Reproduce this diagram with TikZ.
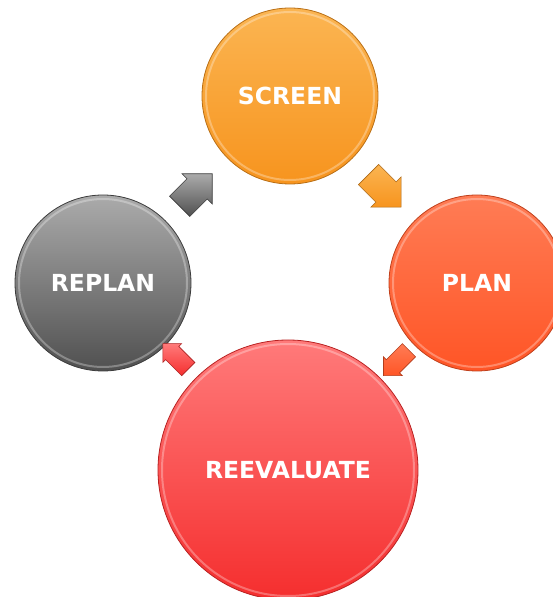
\documentclass[tikz,border=0pt]{standalone}
\usepackage{fontspec}
\setsansfont{DejaVu Sans}
\definecolor{screentop}{HTML}{FBB552}
\definecolor{screenbot}{HTML}{F7941E}
\definecolor{plantop}{HTML}{FF7C55}
\definecolor{planbot}{HTML}{FF5526}
\definecolor{replantop}{HTML}{ABABAB}
\definecolor{replanbot}{HTML}{505050}
\definecolor{evaltop}{HTML}{FF7A7A}
\definecolor{evalbot}{HTML}{F52E2E}
\usetikzlibrary{shapes.arrows, calc}

\tikzset{
  stage/.style={circle, minimum size=#1, inner sep=0pt, line width=0.8pt,
    font=\sffamily\bfseries\fontsize{23.5}{26}\selectfont, text=white},
  turn/.style={single arrow, inner xsep=0pt, line width=0.6pt}
}

\begin{document}
\begin{tikzpicture}[x=1pt, y=1pt]
  \useasboundingbox (0,0) rectangle (552,597);
  % the four stages of the cycle
  \foreach \name/\x/\y/\r/\txt/\col in {
    screen/290/501/176/SCREEN/screen,
    plan/477/314/176/PLAN/plan,
    replan/103/314/176/REPLAN/replan,
    reeval/288/127/260/REEVALUATE/eval} {
    \node[stage=\r pt, top color=\col top, bottom color=\col bot,
      draw=\col bot!75!black] (\name) at (\x,\y) {\txt};
    \draw[white, opacity=0.3, line width=2pt] (\name.center) circle ({\r/2-4});
  }
  % block arrows between the stages
  \foreach \from/\to/\t/\ang/\col/\len/\shaft/\head in {
    replan/screen/0.47/45/replan/46/14/7,
    screen/plan/0.48/-45/screen/46/14/7,
    plan/reeval/0.41/-135/plan/36/9/4,
    reeval/replan/0.59/135/eval/36/9/4} {
    \node[turn, rotate=\ang, minimum height=\len pt, inner ysep=\shaft pt,
      single arrow head extend=\head pt,
      top color=\col top, bottom color=\col bot, draw=\col bot!70!black]
      (\from-\to) at ($(\from)!\t!(\to)$) {};
  }
\end{tikzpicture}
\end{document}
